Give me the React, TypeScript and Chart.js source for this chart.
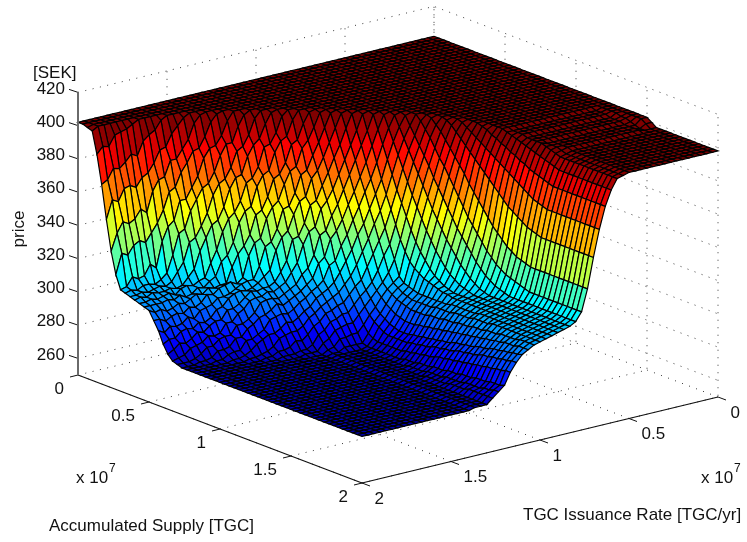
import React, { useEffect, useRef } from "react";
import { Chart, registerables } from "chart.js";

Chart.register(...registerables);

// Grid of the surface: 61 x 61 nodes, 0 .. 2 (x 10^7)
const supplyNodes = Array.from({ length: 61 }, (_, i) => i / 30);
const issuanceNodes = Array.from({ length: 61 }, (_, j) => j / 30);

const plateauPrice = 402;
// Leading plateau nodes of each issuance row
const rowLead = [46, 46, 42, 38, 38, 38, 38, 38, 38, 38, 38, 38, 38, 38, 38, 38, 38, 38, 38, 34, 31, 29, 27, 26, 24, 23, 22, 21, 20, 19, 18, 17, 16, 15, 15, 14, 13, 12, 12, 11, 10, 10, 9, 8, 8, 7, 7, 6, 6, 6, 5, 5, 5, 5, 4, 4, 4, 4, 4, 4, 2];
// Prices following the plateau; the last value carries on to the end of the row
const rowTail: number[][] = [
  [400, 398], [400, 398], [401, 401, 400, 399, 398],
  [401, 401, 401, 400, 400, 400, 399, 399, 399, 399, 398], [401, 401, 401, 400, 400, 400, 399, 399, 399, 399, 398],
  [401, 401, 401, 400, 400, 400, 399, 399, 399, 399, 398], [401, 401, 401, 400, 400, 400, 399, 399, 399, 399, 398],
  [401, 401, 401, 400, 400, 400, 399, 399, 399, 399, 398], [401, 401, 401, 400, 400, 400, 399, 399, 399, 399, 398],
  [401, 401, 401, 400, 400, 400, 399, 399, 399, 399, 398], [401, 401, 401, 400, 400, 400, 399, 399, 399, 399, 398],
  [401, 401, 401, 400, 400, 400, 399, 399, 399, 399, 398], [401, 401, 401, 400, 400, 400, 399, 399, 399, 399, 398],
  [401, 401, 401, 400, 400, 400, 399, 399, 399, 399, 398], [401, 401, 401, 400, 400, 400, 399, 399, 399, 399, 398],
  [401, 401, 401, 400, 400, 400, 399, 399, 399, 399, 398], [401, 401, 401, 400, 400, 400, 399, 399, 399, 398, 397],
  [401, 401, 401, 400, 400, 400, 400, 399, 398, 397, 396],
  [401, 400, 399, 398, 397, 396, 395, 394, 393, 392, 391, 390],
  [401, 400, 398, 397, 395, 394, 392, 391, 389, 388, 386, 385, 384, 383, 382, 381],
  [401, 399, 397, 395, 393, 391, 389, 387, 385, 383, 381, 379, 377, 375, 373, 371, 370, 369, 368],
  [401, 399, 396, 393, 390, 387, 384, 381, 378, 375, 372, 369, 366, 363, 361, 359, 357, 355, 354, 353, 352],
  [401, 398, 395, 391, 387, 383, 379, 375, 370, 366, 362, 358, 354, 350, 347, 344, 341, 339, 337, 336, 335, 334],
  [399, 395, 391, 386, 381, 377, 372, 367, 362, 357, 352, 348, 344, 340, 336, 333, 330, 328, 326, 325, 324, 323, 322, 321],
  [401, 396, 391, 386, 381, 376, 370, 365, 360, 355, 350, 345, 341, 337, 333, 329, 326, 323, 321, 319, 318, 317, 316],
  [401, 395, 389, 383, 377, 371, 365, 359, 353, 348, 343, 338, 334, 330, 326, 323, 320, 318, 316, 315, 314],
  [401, 394, 387, 380, 373, 366, 359, 353, 347, 341, 336, 331, 327, 323, 320, 318, 316, 315, 314, 313],
  [401, 393, 385, 377, 369, 361, 354, 347, 340, 334, 329, 325, 321, 318, 316, 314, 313, 312],
  [401, 392, 384, 375, 366, 358, 350, 342, 334, 328, 323, 320, 318, 316, 315, 314, 313, 312, 312, 311],
  [401, 392, 384, 375, 366, 358, 349, 340, 331, 323, 314, 311, 310, 309, 308, 308, 308, 308, 308, 308, 308, 309, 309, 309, 309, 309, 309, 310],
  [401, 393, 384, 376, 367, 359, 350, 342, 333, 325, 316, 311, 309, 307, 306, 305, 305, 305, 305, 305, 306, 306, 306, 306, 307, 307, 307, 307, 308, 308, 308, 308, 309],
  [401, 393, 384, 376, 368, 359, 351, 342, 334, 326, 317, 311, 308, 306, 304, 303, 302, 301, 301, 301, 301, 302, 302, 302, 303, 303, 303, 304, 304, 304, 305, 305, 305, 306, 306, 306, 307, 307, 307, 307, 308],
  [401, 393, 385, 377, 368, 360, 352, 344, 336, 327, 319, 311, 307, 304, 301, 299, 297, 296, 295, 295, 295, 296, 296, 297, 297, 298, 298, 299, 299, 300, 300, 301, 301, 302, 302, 303, 303, 304, 304, 305, 305, 305, 306],
  [401, 393, 385, 377, 369, 360, 352, 344, 336, 328, 320, 312, 307, 303, 299, 296, 294, 292, 291, 290, 290, 290, 291, 291, 292, 292, 293, 293, 294, 294, 295, 296, 296, 297, 297, 298, 299, 299, 300, 301, 301, 302, 302, 303, 303, 304],
  [395, 386, 378, 370, 362, 354, 346, 338, 330, 322, 314, 309, 304, 299, 295, 292, 290, 288, 287, 287, 287, 287, 287, 288, 288, 289, 289, 290, 291, 291, 292, 292, 293, 294, 294, 295, 295, 296, 297, 297, 298, 298, 299, 299, 300, 300],
  [397, 386, 382, 370, 366, 354, 350, 338, 334, 322, 316, 310, 305, 300, 295, 290, 286, 284, 283, 283, 283, 283, 283, 283, 284, 284, 285, 285, 286, 286, 287, 288, 288, 289, 289, 290, 290, 291, 291, 292, 292, 293, 293, 294, 294, 295, 295],
  [399, 388, 384, 372, 368, 356, 352, 340, 336, 324, 320, 311, 306, 301, 296, 291, 286, 281, 280, 280, 280, 280, 280, 280, 280, 280, 281, 281, 281, 282, 282, 282, 283, 283, 283, 284, 284, 284, 285, 285, 285, 286, 286, 286, 287, 287, 287, 288],
  [401, 390, 386, 374, 370, 358, 354, 342, 338, 325, 321, 312, 308, 304, 300, 296, 291, 286, 281, 279, 279, 279, 279, 279, 279, 279, 279, 279, 279, 280, 280, 280, 280, 281, 281, 281, 281, 282, 282, 282, 282, 283, 283, 283, 283, 284, 284, 285],
  [395, 384, 380, 368, 363, 351, 347, 335, 331, 318, 313, 309, 306, 302, 298, 294, 290, 285, 281, 279, 279, 279, 279, 279, 279, 279, 279, 279, 279, 279, 279, 279, 279, 279, 280, 280, 280, 280, 280, 281, 281, 281, 281, 282],
  [398, 387, 383, 370, 366, 354, 350, 338, 334, 321, 315, 310, 307, 304, 300, 297, 293, 289, 285, 281, 279],
  [400, 389, 384, 372, 368, 356, 351, 339, 335, 322, 316, 310, 307, 304, 300, 297, 293, 289, 285, 281, 279],
  [394, 383, 378, 366, 362, 349, 345, 332, 328, 316, 311, 308, 305, 302, 298, 295, 291, 287, 283, 280, 279],
  [397, 385, 381, 368, 364, 351, 347, 334, 330, 317, 311, 309, 306, 303, 299, 295, 291, 287, 282, 279, 278],
  [401, 389, 385, 372, 367, 354, 349, 336, 332, 319, 314, 309, 307, 304, 301, 297, 293, 289, 284, 280, 279, 278],
  [397, 384, 379, 366, 361, 348, 343, 330, 325, 312, 311, 309, 308, 305, 303, 298, 294, 289, 285, 280, 279, 278],
  [401, 389, 383, 370, 364, 351, 345, 332, 326, 313, 312, 309, 308, 306, 305, 300, 297, 291, 288, 282, 279, 278],
  [397, 383, 378, 364, 358, 344, 338, 325, 319, 310, 311, 308, 309, 306, 304, 298, 296, 289, 287, 281, 279, 278],
  [400, 388, 382, 368, 362, 348, 342, 328, 322, 310, 312, 309, 309, 306, 305, 299, 297, 291, 289, 283, 281, 279, 278],
  [396, 383, 376, 362, 356, 341, 335, 321, 314, 310, 311, 307, 308, 303, 301, 296, 294, 289, 287, 281, 279, 278],
  [392, 378, 371, 356, 350, 335, 328, 313, 312, 309, 310, 306, 306, 301, 299, 294, 292, 287, 285, 280, 279, 278],
  [400, 385, 378, 363, 356, 340, 333, 318, 312, 309, 310, 307, 306, 302, 301, 295, 294, 288, 287, 282, 279, 278],
  [395, 384, 369, 361, 345, 338, 322, 314, 310, 310, 307, 308, 303, 301, 296, 295, 289, 288, 282, 280, 279, 278],
  [393, 377, 368, 351, 342, 326, 317, 310, 311, 307, 308, 304, 302, 297, 296, 290, 289, 284, 282, 279, 278],
  [390, 372, 362, 344, 334, 316, 312, 309, 310, 306, 306, 302, 301, 295, 294, 289, 288, 283, 281, 279, 278],
  [400, 382, 370, 350, 339, 319, 313, 310, 310, 307, 308, 304, 303, 297, 296, 291, 290, 285, 283, 279, 278],
  [398, 384, 365, 353, 334, 322, 311, 311, 309, 309, 306, 305, 300, 299, 293, 292, 287, 285, 280, 279, 278],
  [397, 380, 367, 348, 336, 316, 312, 310, 309, 308, 307, 303, 301, 296, 294, 289, 286, 282, 279, 278],
  [396, 377, 366, 346, 334, 315, 312, 309, 310, 307, 306, 302, 300, 295, 293, 287, 285, 280, 279, 278],
  [390, 378, 359, 348, 329, 317, 310, 310, 308, 308, 306, 304, 298, 296, 290, 288, 282, 279, 278],
  [391, 372, 361, 342, 331, 312, 311, 309, 309, 307, 306, 303, 300, 293, 290, 285, 281, 279, 278],
  [401, 400, 387, 370, 350, 332, 319, 311, 310, 309, 308, 307, 306, 305, 300, 295, 288, 283, 280, 279, 278],
];

const priceTicks = [260, 280, 300, 320, 340, 360, 380, 400, 420];
const supplyTicks = [0, 0.5, 1, 1.5, 2];
const issuanceTicks = [0, 0.5, 1, 1.5, 2];
const tickText = ["0", "0.5", "1", "1.5", "2"];
const zFloor = 250;
const zTop = 420;
const colorMin = 273;
const colorMax = 398;

const jetStops: [number, number, number, number][] = [
  [0, 0, 0, 143],
  [0.125, 0, 0, 255],
  [0.375, 0, 255, 255],
  [0.625, 255, 255, 0],
  [0.875, 255, 0, 0],
  [1, 128, 0, 0],
];

const jet = (price: number) => {
  const t = Math.max(0, Math.min(1, (price - colorMin) / (colorMax - colorMin)));
  for (let k = 1; k < jetStops.length; k++) {
    const a = jetStops[k - 1];
    const b = jetStops[k];
    if (t <= b[0]) {
      const f = (t - a[0]) / (b[0] - a[0]);
      return `rgb(${Math.round(a[1] + (b[1] - a[1]) * f)},${Math.round(a[2] + (b[2] - a[2]) * f)},${Math.round(a[3] + (b[3] - a[3]) * f)})`;
    }
  }
  return "rgb(128,0,0)";
};

// Orthographic view of the 3D axes onto the page
const project = (s: number, i: number, p: number) => ({
  x: 78 + 142 * s + 178 * (2 - i),
  y: 375 + 54 * s - 43 * (2 - i) - 1.6625 * (p - zFloor),
});

const priceAt = (j: number, i: number) => {
  const tail = rowTail[j];
  const k = i - rowLead[j];
  if (k < 0) return plateauPrice;
  return k < tail.length ? tail[k] : tail[tail.length - 1];
};

const FONT = '17px "Liberation Sans", Arial, Helvetica, sans-serif';

const line = (data: { x: number; y: number }[], color: string, width: number, dash: number[] = []) => ({
  type: "scatter",
  showLine: true,
  data,
  borderColor: color,
  backgroundColor: color,
  borderWidth: width,
  borderDash: dash,
  pointRadius: 0,
  tension: 0,
  fill: false,
  clip: false,
});

const buildDatasets = () => {
  const grid: any[] = [];
  const dot = [1, 6.5];
  const dotColor = "#3a3a3a";
  priceTicks.forEach((z) => {
    grid.push(line([project(0, 2, z), project(0, 0, z), project(2, 0, z)], dotColor, 1, dot));
  });
  supplyTicks.forEach((s) => {
    grid.push(line([project(s, 2, zFloor), project(s, 0, zFloor), project(s, 0, zTop)], dotColor, 1, dot));
  });
  issuanceTicks.forEach((v) => {
    grid.push(line([project(2, v, zFloor), project(0, v, zFloor), project(0, v, zTop)], dotColor, 1, dot));
  });

  const faces: any[] = [];
  for (let j = issuanceNodes.length - 2; j >= 0; j--) {
    for (let i = supplyNodes.length - 2; i >= 0; i--) {
      const s0 = supplyNodes[i];
      const s1 = supplyNodes[i + 1];
      const v0 = issuanceNodes[j];
      const v1 = issuanceNodes[j + 1];
      const ds: any = line(
        [
          project(s0, v0, priceAt(j, i)),
          project(s1, v0, priceAt(j, i + 1)),
          project(s1, v1, priceAt(j + 1, i + 1)),
          project(s0, v1, priceAt(j + 1, i)),
          project(s0, v0, priceAt(j, i)),
        ],
        "#000000",
        1.2
      );
      ds.faceColor = jet((priceAt(j, i) + priceAt(j, i + 1) + priceAt(j + 1, i + 1) + priceAt(j + 1, i)) / 4);
      faces.push(ds);
    }
  }

  const axes: any[] = [
    line([project(0, 2, zFloor), project(0, 2, zTop)], "#6a6a6a", 2),
    line([project(0, 2, zFloor), project(2, 2, zFloor)], "#111111", 1.2),
    line([project(2, 2, zFloor), project(2, 0, zFloor)], "#111111", 1.2),
  ];
  priceTicks.forEach((z) => {
    const a = project(0, 2, z);
    axes.push(line([a, { x: a.x - 9, y: a.y - 3 }], "#111111", 1));
  });
  supplyTicks.forEach((s) => {
    const a = project(s, 2, zFloor);
    axes.push(line([a, { x: a.x - 8, y: a.y + 2 }], "#111111", 1));
  });
  issuanceTicks.forEach((v) => {
    const a = project(2, v, zFloor);
    axes.push(line([a, { x: a.x + 8, y: a.y + 3 }], "#111111", 1));
  });
  return [...axes, ...faces, ...grid];
};

const surfacePlugin = {
  id: "surfaceFaces",
  beforeDatasetDraw(chart: any, args: any) {
    const ds = chart.data.datasets[args.index];
    if (!ds.faceColor) return;
    const pts = args.meta.data;
    const ctx = chart.ctx;
    ctx.save();
    ctx.beginPath();
    pts.forEach((p: any, n: number) => (n ? ctx.lineTo(p.x, p.y) : ctx.moveTo(p.x, p.y)));
    ctx.closePath();
    ctx.fillStyle = ds.faceColor;
    ctx.fill();
    ctx.restore();
  },
};

const labelPlugin = {
  id: "axisLabels",
  afterDatasetsDraw(chart: any) {
    const ctx = chart.ctx;
    ctx.save();
    ctx.fillStyle = "#111111";
    ctx.font = FONT;
    ctx.textBaseline = "middle";
    ctx.textAlign = "right";
    priceTicks.forEach((z) => {
      const a = project(0, 2, z);
      ctx.fillText(String(z), 65, a.y - 3.5);
    });
    supplyTicks.forEach((s, n) => {
      const a = project(s, 2, zFloor);
      ctx.fillText(tickText[n], a.x - 14, a.y + 14);
    });
    ctx.textAlign = "left";
    issuanceTicks.forEach((v, n) => {
      const a = project(2, v, zFloor);
      ctx.fillText(tickText[n], a.x + 12.5, a.y + 16);
    });
    ctx.fillText("[SEK]", 33, 73);
    ctx.fillText("x 10", 76, 478);
    ctx.fillText("x 10", 701, 478);
    ctx.fillText("Accumulated Supply [TGC]", 49, 526);
    ctx.fillText("TGC Issuance Rate [TGC/yr]", 523, 515);
    ctx.font = '12px "Liberation Sans", Arial, Helvetica, sans-serif';
    ctx.fillText("7", 109, 469);
    ctx.fillText("7", 734, 469);
    ctx.font = FONT;
    ctx.translate(19, 229);
    ctx.rotate(-Math.PI / 2);
    ctx.textAlign = "center";
    ctx.fillText("price", 0, 0);
    ctx.restore();
  },
};

export default function App() {
  const ref = useRef<HTMLCanvasElement>(null);
  useEffect(() => {
    const chart = new Chart(ref.current as HTMLCanvasElement, {
      type: "scatter",
      data: { datasets: buildDatasets() as any },
      options: {
        animation: false,
        responsive: false,
        events: [],
        devicePixelRatio: 1,
        layout: { padding: 0 },
        plugins: { legend: { display: false }, tooltip: { enabled: false } },
        scales: {
          x: { type: "linear", min: 0, max: 747, display: false },
          y: { type: "linear", min: 0, max: 542, reverse: true, display: false },
        },
      },
      plugins: [surfacePlugin, labelPlugin],
    } as any);
    return () => chart.destroy();
  }, []);
  return (
    <div style={{ position: "absolute", left: 0, top: 0, width: 747, height: 542, background: "#fff" }}>
      <canvas ref={ref} width={747} height={542} style={{ display: "block" }} />
    </div>
  );
}
